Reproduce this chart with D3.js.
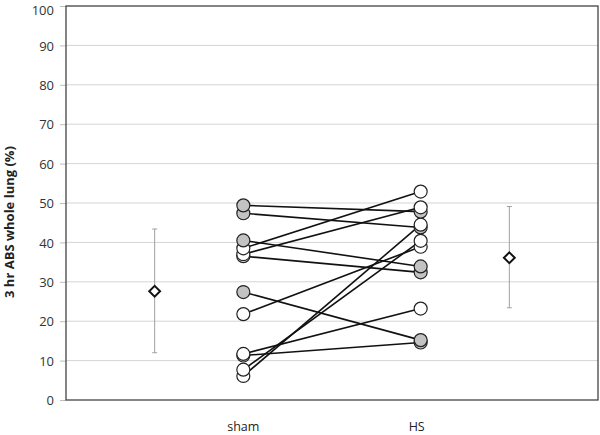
<!DOCTYPE html>
<html><head><meta charset="utf-8">
<script src="https://cdn.jsdelivr.net/npm/d3@7"></script>
<style>body{margin:0;background:#fff}svg{display:block}</style>
</head><body>
<svg id="c" width="600" height="435"></svg>
<script>
const categories = ["sham", "HS"];
const shamValues = [49.4, 47.4, 40.5, 38.5, 37.0, 36.5, 27.4, 21.8, 11.7, 11.3, 7.7, 6.1];
const hsValues   = [47.8, 43.8, 33.9, 52.9, 48.9, 32.4, 15.2, 38.9, 23.2, 14.6, 40.4, 44.5];
const shamGrey   = [true, true, true, false, false, false, true, false, false, false, false, false];
const hsGrey     = [true, true, true, false, false, true, true, false, false, true, false, false];
const meanValues = [27.6, 36.1];
const errLow     = [12.0, 23.4];
const errHigh    = [43.4, 49.1];
const yTicks     = [0,10,20,30,40,50,60,70,80,90,100];
const yTitle     = "3 hr ABS whole lung (%)";

const svg = d3.select("#c");
const L = 66, R = 598, T = 6, B = 400;
const x = d3.scaleLinear().domain([0, 3]).range([L, R]);
const y = d3.scaleLinear().domain([0, 100]).range([B, T]);
const catPos = [1, 2];
const meanPos = [0.5, 2.5];
const font = "'Open Sans', 'Liberation Sans', sans-serif";

// gridlines
svg.append("g").selectAll("line").data(yTicks.filter(d => d > 0 && d < 100)).join("line")
  .attr("x1", L).attr("x2", R).attr("y1", d => y(d)).attr("y2", d => y(d))
  .attr("stroke", "#d4d4d4").attr("stroke-width", 1);

// y axis
const yAxis = d3.axisLeft(y).tickValues(yTicks).tickSize(6).tickPadding(6);
const gy = svg.append("g").attr("transform", `translate(${L},0)`).call(yAxis);
gy.select(".domain").remove();
gy.selectAll(".tick line").attr("stroke", "#bdbdbd");
gy.selectAll(".tick text").attr("font-family", font).attr("font-size", 13).attr("fill", "#333")
  .attr("dy", d => d === 100 ? "0.62em" : "0.36em");

// plot frame
svg.append("rect").attr("x", L).attr("y", T).attr("width", R - L).attr("height", B - T)
  .attr("fill", "none").attr("stroke", "#444").attr("stroke-width", 1.3);

// x labels
svg.append("g").selectAll("text").data(categories).join("text")
  .attr("x", (d, i) => x(catPos[i]) - (i === 1 ? 4 : 0)).attr("y", 431)
  .attr("text-anchor", "middle").attr("font-family", font).attr("font-size", 12.5).attr("fill", "#222")
  .text(d => d);

// y title
svg.append("text").attr("transform", `translate(14,222) rotate(-90)`)
  .attr("text-anchor", "middle").attr("font-family", font).attr("font-weight", "bold")
  .attr("font-size", 13).attr("fill", "#222").text(yTitle);

// error bars
const eb = svg.append("g").attr("stroke", "#a0a0a0").attr("stroke-width", 1);
meanValues.forEach((m, i) => {
  const cx = x(meanPos[i]);
  eb.append("line").attr("x1", cx).attr("x2", cx).attr("y1", y(errLow[i])).attr("y2", y(errHigh[i]));
  eb.append("line").attr("x1", cx - 2.5).attr("x2", cx + 2.5).attr("y1", y(errLow[i])).attr("y2", y(errLow[i]));
  eb.append("line").attr("x1", cx - 2.5).attr("x2", cx + 2.5).attr("y1", y(errHigh[i])).attr("y2", y(errHigh[i]));
});

// mean diamonds
svg.append("g").selectAll("path").data(meanValues).join("path")
  .attr("d", d3.symbol().type(d3.symbolDiamond2).size(75))
  .attr("transform", (d, i) => `translate(${x(meanPos[i])},${y(d)})`)
  .attr("fill", "#fff").attr("stroke", "#111").attr("stroke-width", 2);

// pair lines
svg.append("g").selectAll("line").data(shamValues).join("line")
  .attr("x1", x(catPos[0])).attr("x2", x(catPos[1]))
  .attr("y1", d => y(d)).attr("y2", (d, i) => y(hsValues[i]))
  .attr("stroke", "#111").attr("stroke-width", 1.6);

// points (higher values drawn on top)
function drawPts(vals, grey, pos) {
  const order = d3.range(vals.length).sort((a, b) => vals[a] - vals[b]);
  svg.append("g").selectAll("circle").data(order).join("circle")
    .attr("cx", x(pos)).attr("cy", i => y(vals[i])).attr("r", 6.5)
    .attr("fill", i => grey[i] ? "#c3c3c3" : "#fff")
    .attr("stroke", "#222").attr("stroke-width", 1.2);
}
drawPts(shamValues, shamGrey, catPos[0]);
drawPts(hsValues, hsGrey, catPos[1]);
</script>
</body></html>
